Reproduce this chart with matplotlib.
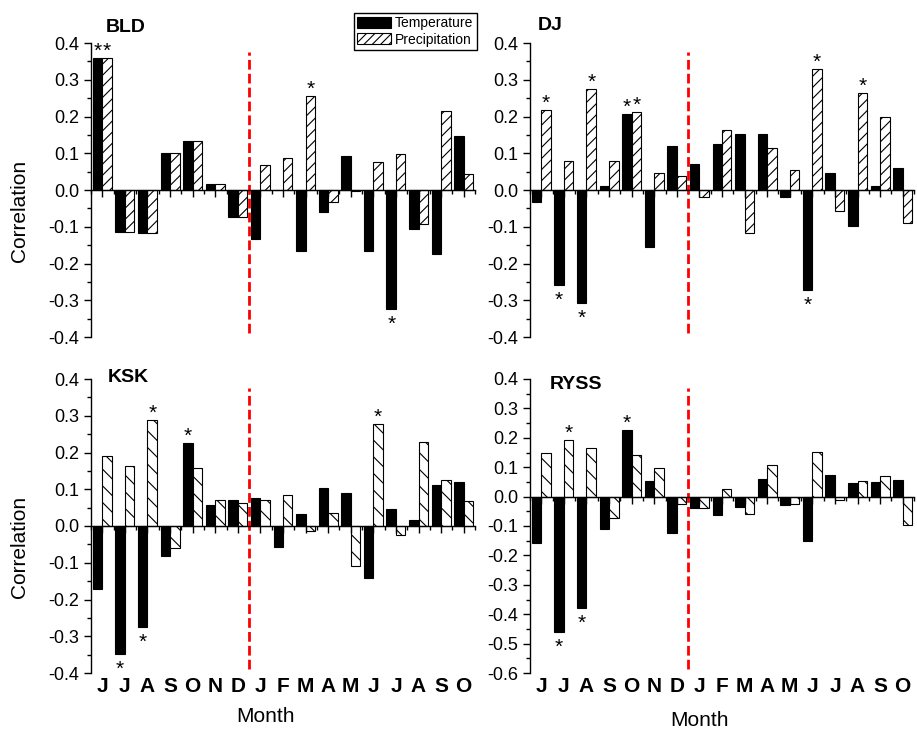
import numpy as np
import matplotlib
matplotlib.use("Agg")
import matplotlib.pyplot as plt
from matplotlib.patches import Patch
from matplotlib.ticker import MultipleLocator

plt.rcParams['font.family'] = ['Liberation Sans', 'DejaVu Sans']
plt.rcParams['axes.unicode_minus'] = False
plt.rcParams['hatch.linewidth'] = 0.8

months = ['J', 'J', 'A', 'S', 'O', 'N', 'D', 'J', 'F', 'M', 'A', 'M', 'J', 'J', 'A', 'S', 'O']

# BLD
bld_temp = [0.36, -0.114, -0.118, 0.102, 0.132, 0.016, -0.073, -0.133, 0.0, -0.165,
            -0.06, 0.092, -0.165, -0.324, -0.107, -0.175, 0.148]
bld_prec = [0.359, -0.114, -0.118, 0.102, 0.132, 0.016, -0.073, 0.067, 0.088, 0.257,
            -0.034, -0.002, 0.077, 0.098, -0.093, 0.216, 0.043]
bld_temp_sig = [0, 13]
bld_prec_sig = [0, 9]

# DJ
dj_temp = [-0.033, -0.259, -0.307, 0.010, 0.208, -0.155, 0.121, 0.071, 0.125, 0.152,
           0.152, -0.018, -0.273, 0.045, -0.097, 0.011, 0.059]
dj_prec = [0.218, 0.079, 0.275, 0.079, 0.213, 0.045, 0.039, -0.018, 0.163, -0.118,
           0.113, 0.055, 0.330, -0.056, 0.265, 0.199, -0.091]
dj_temp_sig = [1, 2, 4, 12]
dj_prec_sig = [0, 2, 4, 12, 14]

# KSK
ksk_temp = [-0.172, -0.348, -0.274, -0.082, 0.227, 0.057, 0.072, 0.077, -0.058, 0.032,
            0.103, 0.089, -0.141, 0.047, 0.016, 0.112, 0.119]
ksk_prec = [0.191, 0.162, 0.288, -0.059, 0.157, 0.070, 0.063, 0.070, 0.085, -0.014,
            0.035, -0.109, 0.278, -0.025, 0.229, 0.124, 0.067]
ksk_temp_sig = [1, 2, 4]
ksk_prec_sig = [2, 12]

# RYSS
ryss_temp = [-0.159, -0.461, -0.378, -0.110, 0.226, 0.053, -0.123, -0.039, -0.061, -0.034,
             0.059, -0.028, -0.150, 0.073, 0.045, 0.050, 0.058]
ryss_prec = [0.147, 0.192, 0.165, -0.072, 0.143, 0.097, -0.025, -0.039, 0.026, -0.060,
             0.109, -0.025, 0.153, -0.012, 0.052, 0.069, -0.098]
ryss_temp_sig = [1, 2, 4]
ryss_prec_sig = [1]

W, H = 917, 729
fig = plt.figure(figsize=(W / 100, H / 100), dpi=100)


def px_axes(x0, y0, x1, y1):
    return fig.add_axes([x0 / W, 1 - y1 / H, (x1 - x0) / W, (y1 - y0) / H])


def star(ax, x, v):
    if v >= 0:
        ax.annotate('*', (x, v), xytext=(0, 1), textcoords='offset pixels',
                    ha='center', va='baseline', fontsize=15)
    else:
        ax.annotate('*', (x, v), xytext=(0, -21), textcoords='offset pixels',
                    ha='center', va='baseline', fontsize=15)


def panel(ax, temp, prec, tsig, psig, ylim, hatch, show_months):
    x = np.arange(1, len(months) + 1)
    w = 0.42
    ax.bar(x - w / 2, temp, w, color='black', edgecolor='black', linewidth=0.8)
    ax.bar(x + w / 2, prec, w, color='white', edgecolor='black', linewidth=0.8, hatch=hatch)
    for i in tsig:
        star(ax, x[i] - w / 2, temp[i])
    for i in psig:
        star(ax, x[i] + w / 2, prec[i])
    ax.axvline(7.5, ymin=0.015, ymax=0.97, color='red', linestyle=(0, (3.5, 1.5)), linewidth=2)

    ax.set_xlim(0.5, len(months) + 0.5)
    ax.set_ylim(*ylim)
    ax.spines['top'].set_visible(False)
    ax.spines['right'].set_visible(False)
    ax.spines['bottom'].set_position(('data', 0))
    ax.yaxis.set_major_locator(MultipleLocator(0.1))
    ax.yaxis.set_minor_locator(MultipleLocator(0.05))
    ax.yaxis.set_major_formatter(plt.FuncFormatter(lambda v, p: '%.1f' % v))
    ax.set_xticks(x)
    ax.set_xticks(np.arange(0.5, len(months) + 1, 1), minor=True)
    ax.set_xticklabels([])
    ax.tick_params(axis='y', which='major', length=5, width=1, labelsize=13)
    ax.tick_params(axis='y', which='minor', length=3, width=1)
    ax.tick_params(axis='x', which='major', length=5, width=1)
    ax.tick_params(axis='x', which='minor', length=3, width=1)
    for s in ['left', 'bottom']:
        ax.spines[s].set_linewidth(1)
    if show_months:
        for xi, m in zip(x, months):
            ax.text(xi, -0.015, m, transform=ax.get_xaxis_transform(), ha='center',
                    va='top', fontsize=15, fontweight='bold')


ax1 = px_axes(91, 43, 475, 337)
ax2 = px_axes(530, 43, 914, 337)
ax3 = px_axes(91, 379, 475, 673)
ax4 = px_axes(530, 379, 914, 673)

panel(ax1, bld_temp, bld_prec, bld_temp_sig, bld_prec_sig, (-0.4, 0.4), '///', False)
panel(ax2, dj_temp, dj_prec, dj_temp_sig, dj_prec_sig, (-0.4, 0.4), '///', False)
panel(ax3, ksk_temp, ksk_prec, ksk_temp_sig, ksk_prec_sig, (-0.4, 0.4), '\\\\', True)
panel(ax4, ryss_temp, ryss_prec, ryss_temp_sig, ryss_prec_sig, (-0.6, 0.4), '\\\\', True)

for name, px, py in [('BLD', 106, 28), ('DJ', 538, 25), ('KSK', 108, 377), ('RYSS', 550, 384)]:
    fig.text(px / W, 1 - py / H, name, ha='left', va='center', fontsize=14, fontweight='bold')

fig.text(20 / W, 1 - 211 / H, 'Correlation', rotation=90, ha='center', va='center', fontsize=15)
fig.text(20 / W, 1 - 547 / H, 'Correlation', rotation=90, ha='center', va='center', fontsize=15)
fig.text(266 / W, 1 - 717 / H, 'Month', ha='center', va='center', fontsize=15)
fig.text(699 / W, 1 - 720 / H, 'Month', ha='center', va='center', fontsize=15)

handles = [Patch(facecolor='black', edgecolor='black', linewidth=0.8),
           Patch(facecolor='white', edgecolor='black', linewidth=0.8, hatch='////')]
fig.legend(handles, ['Temperature', 'Precipitation'], loc='upper left',
           bbox_to_anchor=(354 / W, 1 - 13 / H), borderaxespad=0, fontsize=10,
           frameon=True, fancybox=False, edgecolor='black', framealpha=1,
           borderpad=0.25, labelspacing=0.15, handlelength=2.4, handleheight=0.8,
           handletextpad=0.3)

fig.savefig('out.png', dpi=100)
